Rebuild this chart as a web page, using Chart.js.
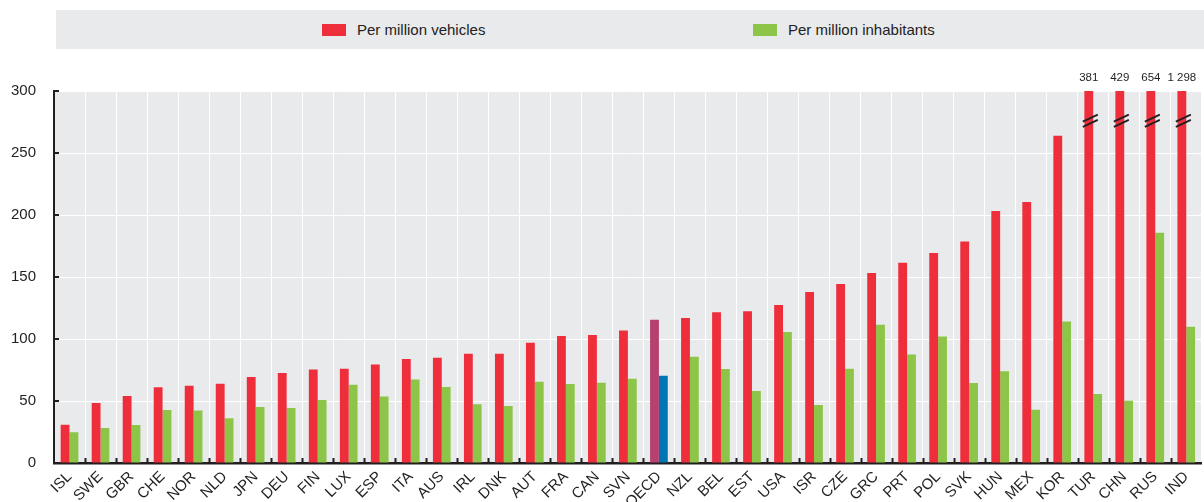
<!DOCTYPE html>
<html><head><meta charset="utf-8">
<script src="https://cdn.jsdelivr.net/npm/chart.js@4"></script>
<style>
html,body{margin:0;padding:0;background:#fff;}
#wrap{position:relative;width:1204px;height:502px;overflow:hidden;}
#legend{position:absolute;left:56px;top:10px;width:1148px;height:39px;background:#e9eaec;font-family:"Liberation Sans",Arial,sans-serif;font-size:15px;color:#222;}
.item{position:absolute;top:0;height:39px;display:flex;align-items:center;}
.sw{width:24px;height:12px;margin-right:11px;}
canvas{position:absolute;left:0;top:0;}
</style></head>
<body>
<div id="wrap">
<canvas id="c" width="1204" height="502"></canvas>
<div id="legend"></div>
</div>
<script>
const categories = ['ISL','SWE','GBR','CHE','NOR','NLD','JPN','DEU','FIN','LUX','ESP','ITA','AUS','IRL','DNK','AUT','FRA','CAN','SVN','OECD','NZL','BEL','EST','USA','ISR','CZE','GRC','PRT','POL','SVK','HUN','MEX','KOR','TUR','CHN','RUS','IND'];
const perMillionVehicles = [30.9,48.4,54.0,61.0,62.3,64.0,69.4,72.6,75.5,76.0,79.5,83.9,84.9,88.1,88.1,97.0,102.4,103.2,106.9,115.6,116.9,121.5,122.3,127.4,137.9,144.4,153.2,161.5,169.4,178.7,203.2,210.5,264.0,381,429,654,1298];
const perMillionInhabitants = [24.7,28.2,30.6,42.7,42.4,36.0,45.2,44.4,50.8,63.1,53.7,67.4,61.3,47.3,46.0,65.6,63.7,64.8,68.0,70.4,85.7,75.8,58.1,105.6,46.8,76.0,111.5,87.6,102.1,64.5,73.9,43.0,114.2,55.6,50.2,185.7,109.9];
const yTicks = [0,50,100,150,200,250,300];
const seriesNames = ['Per million vehicles','Per million inhabitants'];

const RED='#ee2f3b', GREEN='#8dc549', PURPLE='#b5416f', BLUE='#0075b4', BG='#e9eaec', DARK='#231f20';
const FONT='"Liberation Sans", Arial, sans-serif';

// HTML legend
const leg=document.getElementById('legend');
[[seriesNames[0],RED,266],[seriesNames[1],GREEN,697]].forEach(([t,c,l])=>{
  const d=document.createElement('div');d.className='item';d.style.left=l+'px';
  d.innerHTML='<span class="sw" style="background:'+c+'"></span><span>'+t+'</span>';
  leg.appendChild(d);
});

const yMax = yTicks[yTicks.length-1];

const decor = {
  id:'decor',
  beforeDraw(chart){
    const a=chart.chartArea, ctx=chart.ctx;
    ctx.save();ctx.fillStyle=BG;ctx.fillRect(a.left,a.top,a.right-a.left,a.bottom-a.top);ctx.restore();
  },
  afterDatasetsDraw(chart){
    const a=chart.chartArea, ctx=chart.ctx, xs=chart.scales.x, ys=chart.scales.y;
    ctx.save();
    ctx.strokeStyle=DARK;ctx.lineWidth=2;
    // inward x ticks at category boundaries
    for(let i=1;i<categories.length;i++){
      const xb=(xs.getPixelForValue(i-1)+xs.getPixelForValue(i))/2;
      ctx.beginPath();ctx.moveTo(Math.round(xb)+0.5,a.bottom-5);ctx.lineTo(Math.round(xb)+0.5,a.bottom);ctx.stroke();
    }
    // inward y ticks
    yTicks.forEach(v=>{
      const y=ys.getPixelForValue(v);
      ctx.beginPath();ctx.moveTo(a.left,y);ctx.lineTo(a.left+5,y);ctx.stroke();
    });
    // break marks and value labels
    const meta=chart.getDatasetMeta(0);
    ctx.font='11.5px '+FONT;ctx.fillStyle=DARK;ctx.textAlign='center';ctx.textBaseline='middle';
    perMillionVehicles.forEach((v,i)=>{
      if(v>yMax){
        const bx=meta.data[i].x;
        const yb=ys.getPixelForValue(yMax*0.92);
        ctx.strokeStyle=DARK;ctx.lineWidth=1.8;
        [-2.6,2.6].forEach(o=>{
          ctx.beginPath();ctx.moveTo(bx-6,yb+o+3.5);ctx.lineTo(bx+9,yb+o-3.5);ctx.stroke();
        });
        ctx.fillText(v.toLocaleString('en-US').replace(',',' '),bx,a.top-13);
      }
    });
    ctx.restore();
  }
};

new Chart(document.getElementById('c'),{
  type:'bar',
  data:{
    labels:categories,
    datasets:[
      {label:seriesNames[0],data:perMillionVehicles,backgroundColor:categories.map(c=>c==='OECD'?PURPLE:RED),categoryPercentage:0.57,barPercentage:1,borderWidth:0},
      {label:seriesNames[1],data:perMillionInhabitants,backgroundColor:categories.map(c=>c==='OECD'?BLUE:GREEN),categoryPercentage:0.57,barPercentage:1,borderWidth:0}
    ]
  },
  options:{
    responsive:false,animation:false,devicePixelRatio:1,
    layout:{padding:{top:91,left:0,right:0,bottom:0}},
    plugins:{legend:{display:false},tooltip:{enabled:false}},
    scales:{
      x:{
        grid:{offset:true,color:'#ffffff',lineWidth:1,drawTicks:false},
        border:{display:true,color:DARK,width:2.5},
        ticks:{minRotation:45,maxRotation:45,autoSkip:false,padding:5,color:DARK,font:{family:FONT,size:15}},
        afterFit(s){s.height=39;}
      },
      y:{
        min:0,max:yMax,
        afterBuildTicks(s){s.ticks=yTicks.map(v=>({value:v}));},
        grid:{color:'#ffffff',lineWidth:1,drawTicks:false},
        border:{display:true,color:DARK,width:2},
        ticks:{padding:18,color:DARK,font:{family:FONT,size:15}},
        afterFit(s){s.width=54;}
      }
    }
  },
  plugins:[decor]
});
</script>
</body></html>
